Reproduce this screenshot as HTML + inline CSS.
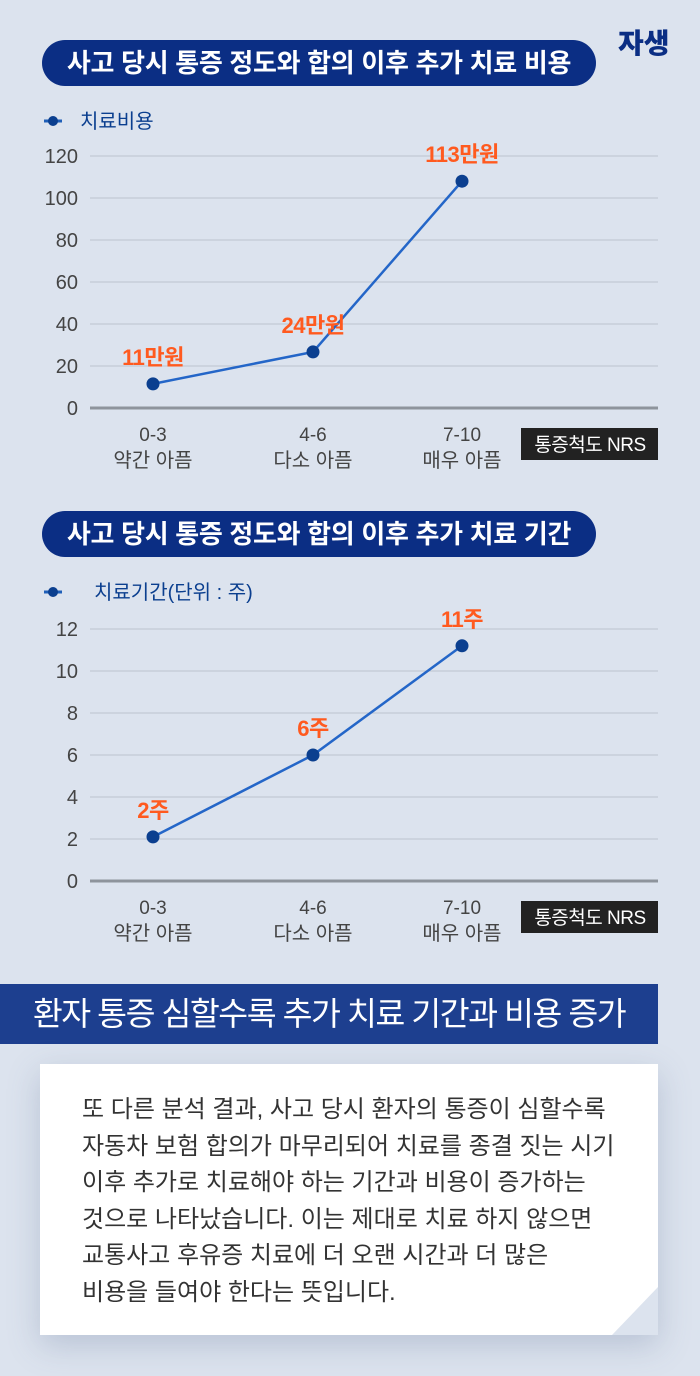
<!DOCTYPE html>
<html><head><meta charset="utf-8">
<style>
body{margin:0;width:700px;height:1376px;background:#dce3ee;font-family:"Liberation Sans","Noto Sans CJK KR",sans-serif;position:relative;overflow:hidden}
.pill{position:absolute;left:42px;width:554px;height:46px;border-radius:23px;background:#0b2e84;color:#fff;font-size:26px;font-weight:bold;line-height:46px;text-align:center;letter-spacing:-0.3px}
.logo{position:absolute;left:618px;top:22px;font-size:28px;font-weight:900;color:#0b2e84}
.banner{position:absolute;left:0;top:984px;width:658px;height:60px;background:#1d3f8f;color:#fff;font-size:32.5px;line-height:60px;text-align:center;letter-spacing:-1.5px}
.box{position:absolute;left:40px;top:1064px;width:618px;height:271px;background:#fff;clip-path:polygon(0 0,100% 0,100% 223px,572px 100%,0 100%);}
.shadow{position:absolute;left:40px;top:1064px;width:618px;height:271px;box-shadow:0 10px 30px rgba(80,100,140,0.25)}
.txt{position:absolute;left:42px;top:28px;font-size:24px;line-height:36.5px;color:#333;letter-spacing:0px;white-space:nowrap}
</style></head><body>
<div class="logo">자생</div>
<div class="pill" style="top:40px">사고 당시 통증 정도와 합의 이후 추가 치료 비용</div>
<div class="pill" style="top:511px">사고 당시 통증 정도와 합의 이후 추가 치료 기간</div>
<svg id="c" width="700" height="980" style="position:absolute;left:0;top:0"></svg>
<div class="banner">환자 통증 심할수록 추가 치료 기간과 비용 증가</div>
<div class="shadow"></div>
<div class="box"><div class="txt">또 다른 분석 결과, 사고 당시 환자의 통증이 심할수록<br>자동차 보험 합의가 마무리되어 치료를 종결 짓는 시기<br>이후 추가로 치료해야 하는 기간과 비용이 증가하는<br>것으로 나타났습니다. 이는 제대로 치료 하지 않으면<br>교통사고 후유증 치료에 더 오랜 시간과 더 많은<br>비용을 들여야 한다는 뜻입니다.</div></div>
<script>
const categories=["0-3","4-6","7-10"];
const subLabels=["약간 아픔","다소 아픔","매우 아픔"];
const costValues=[11.5,26.7,108];
const costLabels=["11만원","24만원","113만원"];
const costTicks=[0,20,40,60,80,100,120];
const weekValues=[2.1,6,11.2];
const weekLabels=["2주","6주","11주"];
const weekTicks=[0,2,4,6,8,10,12];
const NS="http://www.w3.org/2000/svg";
const svg=document.getElementById('c');
function mk(t,a,txt){const e=document.createElementNS(NS,t);for(const k in a)e.setAttribute(k,a[k]);if(txt!==undefined)e.textContent=txt;svg.appendChild(e);return e;}
const xPos=[153,313,462];
function draw(p,vals,labels,ticks,legend){
  const max=ticks[ticks.length-1];
  const y=v=>p.y0-(v/max)*(p.y0-p.y1);
  const x=i=>xPos[i];
  ticks.forEach(t=>{
    const g=mk('line',{x1:90,x2:658,y1:y(t),y2:y(t),stroke:t===0?'#8e949c':'#bcc3ce','stroke-width':t===0?3:1});
    
    const l=mk('text',{x:78,y:y(t)+7,'text-anchor':'end','font-size':20,fill:'#444'},t);
    
  });
  categories.forEach((c,i)=>{
    const a=mk('text',{x:x(i),y:p.y0+33,'text-anchor':'middle','font-size':19,fill:'#444'},c);
    
    const b=mk('text',{x:x(i),y:p.y0+59,'text-anchor':'middle','font-size':20,fill:'#444'},subLabels[i]);
    
  });
  const r=mk('rect',{x:521,y:p.y0+20,width:137,height:32,fill:'#222'});
  
  const rt=mk('text',{x:590,y:p.y0+43,'text-anchor':'middle','font-size':19,fill:'#fff','letter-spacing':'-0.5'},'통증척도 NRS');
  
  const li=mk('line',{x1:44,x2:62,y1:p.ly,y2:p.ly,stroke:'#1f5fb8','stroke-width':3});
  
  const lc=mk('circle',{cx:53,cy:p.ly,r:5,fill:'#0b3f8f'});
  
  const lt=mk('text',{x:p.lx,y:p.ly+7,'font-size':20,fill:'#0b3f8f'},legend);
  
  const pl=mk('polyline',{points:vals.map((v,i)=>x(i)+','+y(v)).join(' '),fill:'none',stroke:'#2466c8','stroke-width':2.5});
  
  vals.forEach((v,i)=>{
    const c=mk('circle',{cx:x(i),cy:y(v),r:6.5,fill:'#0b3f8f'});
    
    const t=mk('text',{x:x(i),y:y(v)-19,'text-anchor':'middle','font-size':22,'font-weight':'bold',fill:'#ff5a1f','letter-spacing':'-0.5'},labels[i]);
    
  });
}
draw({y0:408,y1:156,ly:121,lx:80},costValues,costLabels,costTicks,'치료비용');
draw({y0:881,y1:629,ly:592,lx:94},weekValues,weekLabels,weekTicks,'치료기간(단위 : 주)');
</script>
</body></html>
